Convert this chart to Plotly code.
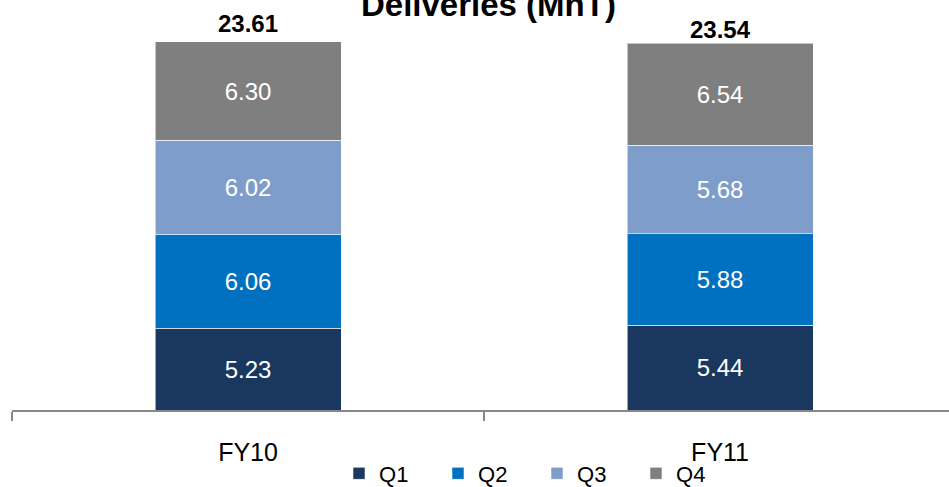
import plotly.graph_objects as go

categories = ["FY10", "FY11"]
series_names = ["Q1", "Q2", "Q3", "Q4"]
q1 = [5.23, 5.44]
q2 = [6.06, 5.88]
q3 = [6.02, 5.68]
q4 = [6.30, 6.54]
totals = [23.61, 23.54]
title_text = "Deliveries (MnT)"

colors = ["#1A375F", "#0070C0", "#7F9DCB", "#7F7F7F"]
FONT = "Liberation Sans, Arial, sans-serif"

fig = go.Figure()
for name, vals, col in zip(series_names, [q1, q2, q3, q4], colors):
    fig.add_trace(go.Bar(
        x=categories, y=vals, name=name,
        marker=dict(color=col, line=dict(color="rgba(255,255,255,0.55)", width=1)),
        width=0.394,
        text=[f"{v:.2f}" for v in vals],
        textposition="inside", insidetextanchor="middle",
        textfont=dict(color="white", size=24, family=FONT),
        constraintext="none",
        hoverinfo="skip",
    ))

shifts = [3, -2]
for c, t, s in zip(categories, totals, shifts):
    fig.add_annotation(x=c, y=t, text=f"<b>{t:.2f}</b>", showarrow=False,
                       yanchor="bottom", yshift=s,
                       font=dict(size=24, color="black", family=FONT))

fig.add_annotation(xref="paper", yref="paper", x=0.509, y=1 - 4 / 410,
                   text=f"<b>{title_text}</b>", showarrow=False,
                   xanchor="center", yanchor="middle",
                   font=dict(size=33, color="black", family=FONT))

fig.update_layout(
    barmode="stack",
    width=949, height=487,
    margin=dict(l=12, r=0, t=0, b=77, autoexpand=False),
    paper_bgcolor="white", plot_bgcolor="white",
    showlegend=True,
    legend=dict(orientation="h", x=0.349, xanchor="left", y=-0.155, yanchor="middle",
                font=dict(size=22, color="black", family=FONT),
                entrywidth=54, entrywidthmode="pixels", traceorder="normal",
                bgcolor="rgba(0,0,0,0)"),
    uniformtext=dict(mode=False),
)
fig.update_xaxes(type="category", range=[-0.5, 1.485], tickson="boundaries",
                 ticks="outside", ticklen=9, tickwidth=2, tickcolor="#878787",
                 showline=True, linecolor="#878787", linewidth=2,
                 showgrid=False, zeroline=False,
                 tickfont=dict(size=25, color="black", family=FONT),
                 ticklabelstandoff=19)
fig.update_yaxes(range=[0, 410 / 15.587], visible=False, showgrid=False, zeroline=False)

fig.write_html("out.html")
